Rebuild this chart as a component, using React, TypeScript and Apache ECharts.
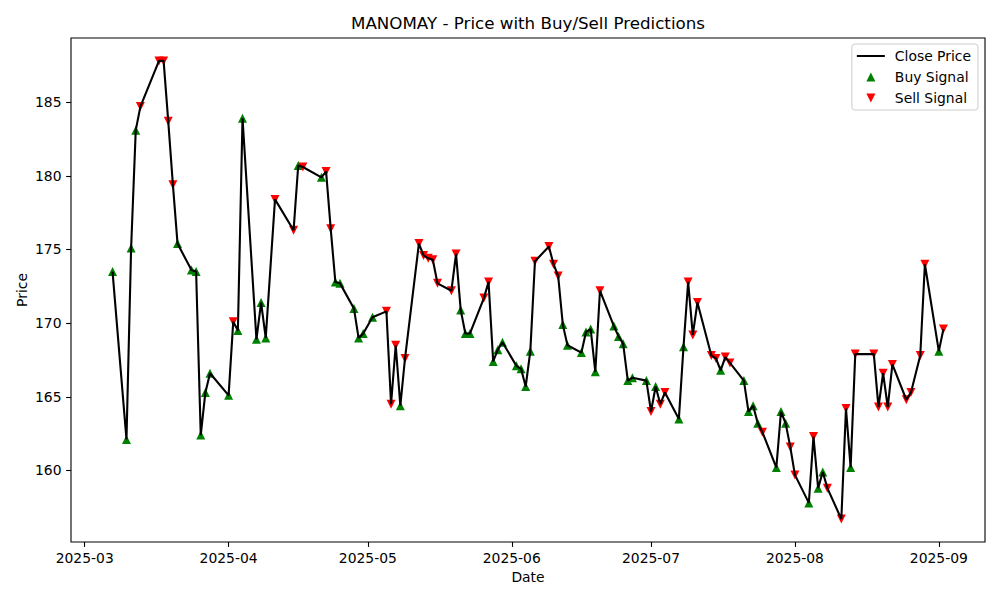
import { useEffect, useRef } from 'react';
import * as echarts from 'echarts';

// trading days, closing prices and the predicted signal for each day (B = buy, S = sell)
const dates = [
  '2025-03-07', '2025-03-10', '2025-03-11', '2025-03-12', '2025-03-13', '2025-03-17', '2025-03-18', '2025-03-19',
  '2025-03-20', '2025-03-21', '2025-03-24', '2025-03-25', '2025-03-26', '2025-03-27', '2025-03-28', '2025-04-01',
  '2025-04-02', '2025-04-03', '2025-04-04', '2025-04-07', '2025-04-08', '2025-04-09', '2025-04-11', '2025-04-15',
  '2025-04-16', '2025-04-17', '2025-04-21', '2025-04-22', '2025-04-23', '2025-04-24', '2025-04-25', '2025-04-28',
  '2025-04-29', '2025-04-30', '2025-05-02', '2025-05-05', '2025-05-06', '2025-05-07', '2025-05-08', '2025-05-09',
  '2025-05-12', '2025-05-13', '2025-05-14', '2025-05-15', '2025-05-16', '2025-05-19', '2025-05-20', '2025-05-21',
  '2025-05-22', '2025-05-23', '2025-05-26', '2025-05-27', '2025-05-28', '2025-05-29', '2025-05-30', '2025-06-02',
  '2025-06-03', '2025-06-04', '2025-06-05', '2025-06-06', '2025-06-09', '2025-06-10', '2025-06-11', '2025-06-12',
  '2025-06-13', '2025-06-16', '2025-06-17', '2025-06-18', '2025-06-19', '2025-06-20', '2025-06-23', '2025-06-24',
  '2025-06-25', '2025-06-26', '2025-06-27', '2025-06-30', '2025-07-01', '2025-07-02', '2025-07-03', '2025-07-04',
  '2025-07-07', '2025-07-08', '2025-07-09', '2025-07-10', '2025-07-11', '2025-07-14', '2025-07-15', '2025-07-16',
  '2025-07-17', '2025-07-18', '2025-07-21', '2025-07-22', '2025-07-23', '2025-07-24', '2025-07-25', '2025-07-28',
  '2025-07-29', '2025-07-30', '2025-07-31', '2025-08-01', '2025-08-04', '2025-08-05', '2025-08-06', '2025-08-07',
  '2025-08-08', '2025-08-11', '2025-08-12', '2025-08-13', '2025-08-14', '2025-08-18', '2025-08-19', '2025-08-20',
  '2025-08-21', '2025-08-22', '2025-08-25', '2025-08-26', '2025-08-28', '2025-08-29', '2025-09-01', '2025-09-02',
];

const closePrices = [
  173.5, 162.1, 175.1, 183.1, 184.7, 187.8, 187.8, 183.7,
  179.4, 175.4, 173.6, 173.5, 162.4, 165.3, 166.6, 165.1,
  170.1, 169.5, 183.9, 168.9, 171.4, 169.0, 178.4, 176.3,
  180.7, 180.6, 179.9, 180.3, 176.4, 172.8, 172.7, 171.0,
  169.0, 169.3, 170.4, 170.8, 164.5, 168.5, 164.4, 167.6,
  175.4, 174.6, 174.4, 174.3, 172.7, 172.2, 174.7, 170.9,
  169.3, 169.3, 171.7, 172.8, 167.4, 168.2, 168.7, 167.1,
  166.9, 165.7, 168.1, 174.2, 175.2, 174.0, 173.2, 169.9,
  168.5, 168.0, 169.4, 169.6, 166.7, 172.2, 169.8, 169.1,
  168.6, 166.1, 166.3, 166.1, 164.0, 165.7, 164.5, 165.3,
  163.5, 168.4, 172.8, 169.2, 171.4, 167.8, 167.6, 166.8,
  167.7, 167.3, 166.1, 164.0, 164.4, 163.2, 162.6, 160.2,
  164.0, 163.2, 161.6, 159.7, 157.8, 162.3, 158.8, 159.9,
  158.8, 156.7, 164.2, 160.2, 167.9, 167.9, 164.3, 166.6,
  164.3, 167.2, 164.8, 165.3, 167.8, 174.0, 168.1, 169.6,
];

const signals = [
  'B', 'B', 'B', 'B', 'S', 'S', 'S', 'S',
  'S', 'B', 'B', 'B', 'B', 'B', 'B', 'B',
  'S', 'B', 'B', 'B', 'B', 'B', 'S', 'S',
  'B', 'S', 'B', 'S', 'S', 'B', 'B', 'B',
  'B', 'B', 'B', 'S', 'S', 'S', 'B', 'S',
  'S', 'S', 'S', 'S', 'S', 'S', 'S', 'B',
  'B', 'B', 'S', 'S', 'B', 'B', 'B', 'B',
  'B', 'B', 'B', 'S', 'S', 'S', 'S', 'B',
  'B', 'B', 'B', 'B', 'B', 'S', 'B', 'B',
  'B', 'B', 'B', 'B', 'S', 'B', 'S', 'S',
  'B', 'B', 'S', 'S', 'S', 'S', 'S', 'B',
  'S', 'S', 'B', 'B', 'B', 'B', 'S', 'B',
  'B', 'B', 'S', 'S', 'B', 'S', 'B', 'B',
  'S', 'S', 'S', 'B', 'S', 'S', 'S', 'S',
  'S', 'S', 'S', 'S', 'S', 'S', 'B', 'S',
];

const xTickMonths = ['2025-03', '2025-04', '2025-05', '2025-06', '2025-07', '2025-08', '2025-09'];
const yTicks = [160, 165, 170, 175, 180, 185];

const FONT = 'DejaVu Sans';

// legend icons drawn in a 28x10 box (the leading/trailing moves pin the box size)
const ICON_LINE = 'path://M0,0 M0,4 L28,4 L28,6 L0,6 Z M28,10';
const ICON_UP = 'path://M0,0 M14,0.5 L18.5,9.5 L9.5,9.5 Z M28,10';
const ICON_DOWN = 'path://M0,0 M9.5,0.5 L18.5,0.5 L14,9.5 Z M28,10';

const toTime = (d: string) => new Date(d + 'T00:00:00').getTime();

export default function App() {
  const chartRef = useRef<HTMLDivElement>(null);

  useEffect(() => {
    if (!chartRef.current) return;
    const chart = echarts.init(chartRef.current, undefined, { renderer: 'svg' });

    const times = dates.map(toTime);
    const linePoints = times.map((t, i) => [t, closePrices[i]]);
    const buyPoints = linePoints.filter((_, i) => signals[i] === 'B');
    const sellPoints = linePoints.filter((_, i) => signals[i] === 'S');

    // matplotlib-like 5% margins
    const tMin = Math.min(...times);
    const tMax = Math.max(...times);
    const tPad = (tMax - tMin) * 0.05;
    const pMin = Math.min(...closePrices);
    const pMax = Math.max(...closePrices);
    const pPad = (pMax - pMin) * 0.05;

    const monthTicks = xTickMonths.map((m) => toTime(m + '-01'));

    chart.setOption({
      animation: false,
      backgroundColor: '#ffffff',
      textStyle: { fontFamily: FONT },
      grid: {
        left: 71,
        right: 15,
        top: 38,
        bottom: 58,
        show: true,
        borderColor: '#000000',
        borderWidth: 1.1,
        backgroundColor: 'transparent',
      },
      graphic: [
        {
          type: 'text',
          x: 528,
          y: 23,
          style: {
            text: 'MANOMAY - Price with Buy/Sell Predictions',
            fontFamily: FONT,
            fontSize: 16.7,
            fill: '#000',
            textAlign: 'center',
            textVerticalAlign: 'middle',
          },
        },
        {
          type: 'text',
          x: 528,
          y: 577,
          style: {
            text: 'Date',
            fontFamily: FONT,
            fontSize: 13.9,
            fill: '#000',
            textAlign: 'center',
            textVerticalAlign: 'middle',
          },
        },
        {
          type: 'text',
          x: 22,
          y: 290,
          rotation: Math.PI / 2,
          style: {
            text: 'Price',
            fontFamily: FONT,
            fontSize: 13.9,
            fill: '#000',
            textAlign: 'center',
            textVerticalAlign: 'middle',
          },
        },
      ],
      legend: {
        orient: 'vertical',
        right: 22,
        top: 44,
        padding: [5, 7, 5, 5],
        itemGap: 7,
        itemWidth: 28,
        itemHeight: 10,
        backgroundColor: 'rgba(255,255,255,0.8)',
        borderColor: '#cccccc',
        borderWidth: 1,
        borderRadius: 3,
        textStyle: { fontFamily: FONT, fontSize: 13.9, color: '#000', padding: [0, 0, 0, 5] },
        data: [
          { name: 'Close Price', icon: ICON_LINE, itemStyle: { color: '#000000' } },
          { name: 'Buy Signal', icon: ICON_UP, itemStyle: { color: '#008000' } },
          { name: 'Sell Signal', icon: ICON_DOWN, itemStyle: { color: '#ff0000' } },
        ],
      },
      xAxis: {
        type: 'value',
        min: tMin - tPad,
        max: tMax + tPad,
        splitLine: { show: false },
        axisLine: { show: false },
        axisTick: {
          show: true,
          length: 4.9,
          lineStyle: { color: '#000', width: 1.1 },
          customValues: monthTicks,
        },
        axisLabel: {
          margin: 9,
          fontFamily: FONT,
          fontSize: 13.9,
          color: '#000',
          customValues: monthTicks,
          formatter: (v: number) => {
            const d = new Date(v);
            return d.getFullYear() + '-' + String(d.getMonth() + 1).padStart(2, '0');
          },
        },
      },
      yAxis: {
        type: 'value',
        min: pMin - pPad,
        max: pMax + pPad,
        splitLine: { show: false },
        axisLine: { show: false },
        axisTick: {
          show: true,
          length: 4.9,
          lineStyle: { color: '#000', width: 1.1 },
          customValues: yTicks,
        },
        axisLabel: {
          margin: 9.5,
          fontFamily: FONT,
          fontSize: 13.9,
          color: '#000',
          customValues: yTicks,
        },
      },
      series: [
        {
          name: 'Close Price',
          type: 'line',
          data: linePoints,
          symbol: 'none',
          z: 3,
          lineStyle: { color: '#000000', width: 2.1 },
          itemStyle: { color: '#000000' },
        },
        {
          name: 'Buy Signal',
          type: 'scatter',
          data: buyPoints,
          symbol: 'triangle',
          symbolSize: 9,
          z: 2,
          itemStyle: { color: '#008000', opacity: 1 },
        },
        {
          name: 'Sell Signal',
          type: 'scatter',
          data: sellPoints,
          symbol: 'triangle',
          symbolRotate: 180,
          symbolSize: 9,
          z: 2,
          itemStyle: { color: '#ff0000', opacity: 1 },
        },
      ],
    });

    return () => {
      chart.dispose();
    };
  }, []);

  return (
    <div
      ref={chartRef}
      style={{ position: 'absolute', left: 0, top: 0, width: 1000, height: 600, background: '#fff' }}
    />
  );
}
